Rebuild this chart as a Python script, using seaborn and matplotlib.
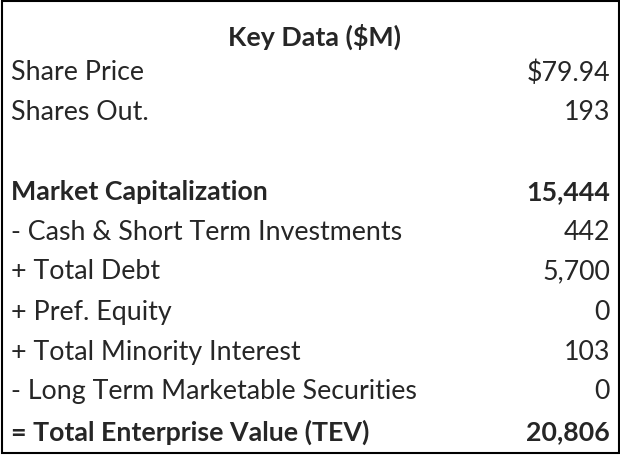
import matplotlib
matplotlib.use("Agg")
import matplotlib.pyplot as plt
import seaborn as sns

title = "Key Data ($M)"
labels = ["Share Price", "Shares Out.", "", "Market Capitalization",
          "- Cash & Short Term Investments", "+ Total Debt", "+ Pref. Equity",
          "+ Total Minority Interest", "- Long Term Marketable Securities",
          "= Total Enterprise Value (TEV)"]
values = ["$79.94", "193", "", "15,444", "442", "5,700", "0", "103", "0", "20,806"]
bold = [False, False, False, True, False, False, False, False, False, True]

sns.set_theme(style="white")
plt.rcParams['font.family'] = ['Lato', 'DejaVu Sans']

fig = plt.figure(figsize=(6.2, 4.56), dpi=100)
ax = fig.add_axes([0, 0, 1, 1])
ax.set_xlim(0, 620)
ax.set_ylim(456, 0)
ax.axis("off")
ax.add_patch(plt.Rectangle((1.5, 1.5), 617, 453, fill=False, edgecolor="black", lw=1.5))

fs = 19.3
ax.text(314, 37, title, ha="center", va="center", fontsize=fs, fontweight="bold")
row_y = [73, 113, 153, 192, 233, 272, 313, 353, 392, 432]
for y, lab, val, b in zip(row_y, labels, values, bold):
    w = "bold" if b else "normal"
    ax.text(11, y, lab, ha="left", va="center", fontsize=fs, fontweight=w)
    ax.text(610, y, val, ha="right", va="center", fontsize=fs, fontweight=w)

fig.savefig("out.png", dpi=100, facecolor="white")
